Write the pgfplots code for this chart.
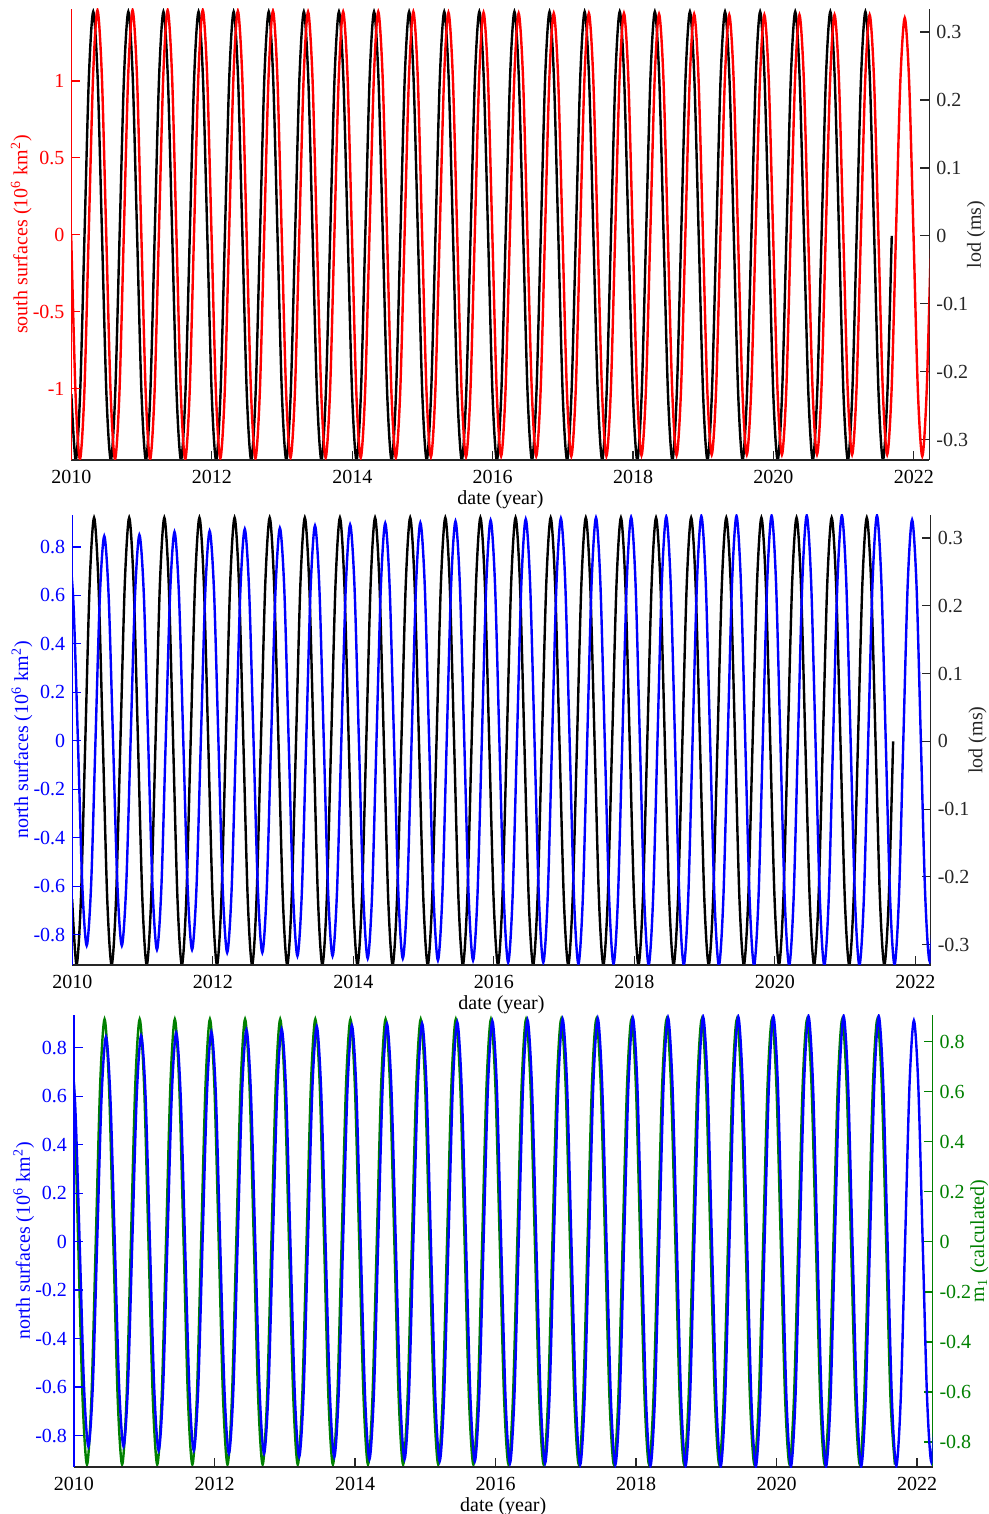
\documentclass[border=0pt]{standalone}
\usepackage{fontspec}
\setmainfont{Liberation Serif}
\usepackage{pgfplots}
\usepackage{pgfplotstable}
\pgfplotsset{compat=1.18}
\definecolor{mgreen}{rgb}{0,0.5,0}
\definecolor{axgray}{rgb}{0.15,0.15,0.15}

% lod (ms), black
\pgfplotstableread{
x y
2009.9975 -0.233
2010.0600 -0.33
2010.1225 -0.233
2010.1850 0
2010.2475 0.233
2010.3100 0.33
2010.3725 0.233
2010.4350 0
2010.4975 -0.233
2010.5600 -0.33
2010.6225 -0.233
2010.6850 0
2010.7475 0.233
2010.8100 0.33
2010.8725 0.233
2010.9350 0
2010.9975 -0.233
2011.0600 -0.33
2011.1225 -0.233
2011.1850 0
2011.2475 0.233
2011.3100 0.33
2011.3725 0.233
2011.4350 0
2011.4975 -0.233
2011.5600 -0.33
2011.6225 -0.233
2011.6850 0
2011.7475 0.233
2011.8100 0.33
2011.8725 0.233
2011.9350 0
2011.9975 -0.233
2012.0600 -0.33
2012.1225 -0.233
2012.1850 0
2012.2475 0.233
2012.3100 0.33
2012.3725 0.233
2012.4350 0
2012.4975 -0.233
2012.5600 -0.33
2012.6225 -0.233
2012.6850 0
2012.7475 0.233
2012.8100 0.33
2012.8725 0.233
2012.9350 0
2012.9975 -0.233
2013.0600 -0.33
2013.1225 -0.233
2013.1850 0
2013.2475 0.233
2013.3100 0.33
2013.3725 0.233
2013.4350 0
2013.4975 -0.233
2013.5600 -0.33
2013.6225 -0.233
2013.6850 0
2013.7475 0.233
2013.8100 0.33
2013.8725 0.233
2013.9350 0
2013.9975 -0.233
2014.0600 -0.33
2014.1225 -0.233
2014.1850 0
2014.2475 0.233
2014.3100 0.33
2014.3725 0.233
2014.4350 0
2014.4975 -0.233
2014.5600 -0.33
2014.6225 -0.233
2014.6850 0
2014.7475 0.233
2014.8100 0.33
2014.8725 0.233
2014.9350 0
2014.9975 -0.233
2015.0600 -0.33
2015.1225 -0.233
2015.1850 0
2015.2475 0.233
2015.3100 0.33
2015.3725 0.233
2015.4350 0
2015.4975 -0.233
2015.5600 -0.33
2015.6225 -0.233
2015.6850 0
2015.7475 0.233
2015.8100 0.33
2015.8725 0.233
2015.9350 0
2015.9975 -0.233
2016.0600 -0.33
2016.1225 -0.233
2016.1850 0
2016.2475 0.233
2016.3100 0.33
2016.3725 0.233
2016.4350 0
2016.4975 -0.233
2016.5600 -0.33
2016.6225 -0.233
2016.6850 0
2016.7475 0.233
2016.8100 0.33
2016.8725 0.233
2016.9350 0
2016.9975 -0.233
2017.0600 -0.33
2017.1225 -0.233
2017.1850 0
2017.2475 0.233
2017.3100 0.33
2017.3725 0.233
2017.4350 0
2017.4975 -0.233
2017.5600 -0.33
2017.6225 -0.233
2017.6850 0
2017.7475 0.233
2017.8100 0.33
2017.8725 0.233
2017.9350 0
2017.9975 -0.233
2018.0600 -0.33
2018.1225 -0.233
2018.1850 0
2018.2475 0.233
2018.3100 0.33
2018.3725 0.233
2018.4350 0
2018.4975 -0.233
2018.5600 -0.33
2018.6225 -0.233
2018.6850 0
2018.7475 0.233
2018.8100 0.33
2018.8725 0.233
2018.9350 0
2018.9975 -0.233
2019.0600 -0.33
2019.1225 -0.233
2019.1850 0
2019.2475 0.233
2019.3100 0.33
2019.3725 0.233
2019.4350 0
2019.4975 -0.233
2019.5600 -0.33
2019.6225 -0.233
2019.6850 0
2019.7475 0.233
2019.8100 0.33
2019.8725 0.233
2019.9350 0
2019.9975 -0.233
2020.0600 -0.33
2020.1225 -0.233
2020.1850 0
2020.2475 0.233
2020.3100 0.33
2020.3725 0.233
2020.4350 0
2020.4975 -0.233
2020.5600 -0.33
2020.6225 -0.233
2020.6850 0
2020.7475 0.233
2020.8100 0.33
2020.8725 0.233
2020.9350 0
2020.9975 -0.233
2021.0600 -0.33
2021.1225 -0.233
2021.1850 0
2021.2475 0.233
2021.3100 0.33
2021.3725 0.233
2021.4350 0
2021.4975 -0.233
2021.5600 -0.33
2021.6225 -0.233
2021.6850 0
}\lodtab

% south surfaces, red
\pgfplotstableread{
x y
2009.9950 0
2010.0575 -1.032
2010.1200 -1.46
2010.1825 -1.032
2010.2450 0
2010.3075 1.032
2010.3700 1.46
2010.4325 1.032
2010.4950 0
2010.5575 -1.032
2010.6200 -1.46
2010.6825 -1.032
2010.7450 0
2010.8075 1.032
2010.8700 1.46
2010.9325 1.032
2010.9950 0
2011.0575 -1.032
2011.1200 -1.46
2011.1825 -1.032
2011.2450 0
2011.3075 1.032
2011.3700 1.46
2011.4325 1.032
2011.4950 0
2011.5575 -1.032
2011.6200 -1.46
2011.6825 -1.032
2011.7450 0
2011.8075 1.032
2011.8700 1.46
2011.9325 1.032
2011.9950 0
2012.0575 -1.029
2012.1200 -1.455
2012.1825 -1.029
2012.2450 0
2012.3075 1.029
2012.3700 1.455
2012.4325 1.029
2012.4950 0
2012.5575 -1.029
2012.6200 -1.455
2012.6825 -1.029
2012.7450 0
2012.8075 1.029
2012.8700 1.455
2012.9325 1.029
2012.9950 0
2013.0575 -1.025
2013.1200 -1.45
2013.1825 -1.025
2013.2450 0
2013.3075 1.025
2013.3700 1.45
2013.4325 1.025
2013.4950 0
2013.5575 -1.025
2013.6200 -1.45
2013.6825 -1.025
2013.7450 0
2013.8075 1.025
2013.8700 1.45
2013.9325 1.025
2013.9950 0
2014.0575 -1.025
2014.1200 -1.45
2014.1825 -1.025
2014.2450 0
2014.3075 1.025
2014.3700 1.45
2014.4325 1.025
2014.4950 0
2014.5575 -1.025
2014.6200 -1.45
2014.6825 -1.025
2014.7450 0
2014.8075 1.025
2014.8700 1.45
2014.9325 1.025
2014.9950 0
2015.0575 -1.022
2015.1200 -1.445
2015.1825 -1.022
2015.2450 0
2015.3075 1.022
2015.3700 1.445
2015.4325 1.022
2015.4950 0
2015.5575 -1.022
2015.6200 -1.445
2015.6825 -1.022
2015.7450 0
2015.8075 1.022
2015.8700 1.445
2015.9325 1.022
2015.9950 0
2016.0575 -1.018
2016.1200 -1.44
2016.1825 -1.018
2016.2450 0
2016.3075 1.018
2016.3700 1.44
2016.4325 1.018
2016.4950 0
2016.5575 -1.018
2016.6200 -1.44
2016.6825 -1.018
2016.7450 0
2016.8075 1.018
2016.8700 1.44
2016.9325 1.018
2016.9950 0
2017.0575 -1.018
2017.1200 -1.44
2017.1825 -1.018
2017.2450 0
2017.3075 1.018
2017.3700 1.44
2017.4325 1.018
2017.4950 0
2017.5575 -1.018
2017.6200 -1.44
2017.6825 -1.018
2017.7450 0
2017.8075 1.018
2017.8700 1.44
2017.9325 1.018
2017.9950 0
2018.0575 -1.015
2018.1200 -1.435
2018.1825 -1.015
2018.2450 0
2018.3075 1.015
2018.3700 1.435
2018.4325 1.015
2018.4950 0
2018.5575 -1.015
2018.6200 -1.435
2018.6825 -1.015
2018.7450 0
2018.8075 1.015
2018.8700 1.435
2018.9325 1.015
2018.9950 0
2019.0575 -1.011
2019.1200 -1.43
2019.1825 -1.011
2019.2450 0
2019.3075 1.011
2019.3700 1.43
2019.4325 1.011
2019.4950 0
2019.5575 -1.011
2019.6200 -1.43
2019.6825 -1.011
2019.7450 0
2019.8075 1.011
2019.8700 1.43
2019.9325 1.011
2019.9950 0
2020.0575 -1.011
2020.1200 -1.43
2020.1825 -1.011
2020.2450 0
2020.3075 1.011
2020.3700 1.43
2020.4325 1.011
2020.4950 0
2020.5575 -1.011
2020.6200 -1.43
2020.6825 -1.011
2020.7450 0
2020.8075 1.011
2020.8700 1.43
2020.9325 1.011
2020.9950 0
2021.0575 -1.011
2021.1200 -1.43
2021.1825 -1.011
2021.2450 0
2021.3075 1.011
2021.3700 1.43
2021.4325 1.011
2021.4950 0
2021.5575 -1.011
2021.6200 -1.43
2021.6825 -1.011
2021.7450 0
2021.8075 0.997
2021.8700 1.41
2021.9325 0.997
2021.9950 0
2022.0575 -1.018
2022.1200 -1.44
2022.1825 -1.018
2022.2450 0
}\southtab

% north surfaces, blue
\pgfplotstableread{
x y
2009.9550 0.80
2010.0175 0.56
2010.0800 0
2010.1425 -0.597
2010.2050 -0.845
2010.2675 -0.597
2010.3300 0
2010.3925 0.597
2010.4550 0.845
2010.5175 0.597
2010.5800 0
2010.6425 -0.597
2010.7050 -0.845
2010.7675 -0.597
2010.8300 0
2010.8925 0.597
2010.9550 0.85
2011.0175 0.609
2011.0800 0
2011.1425 -0.609
2011.2050 -0.862
2011.2675 -0.609
2011.3300 0
2011.3925 0.609
2011.4550 0.862
2011.5175 0.609
2011.5800 0
2011.6425 -0.609
2011.7050 -0.862
2011.7675 -0.609
2011.8300 0
2011.8925 0.609
2011.9550 0.866
2012.0175 0.618
2012.0800 0
2012.1425 -0.618
2012.2050 -0.874
2012.2675 -0.618
2012.3300 0
2012.3925 0.618
2012.4550 0.874
2012.5175 0.618
2012.5800 0
2012.6425 -0.618
2012.7050 -0.874
2012.7675 -0.618
2012.8300 0
2012.8925 0.618
2012.9550 0.878
2013.0175 0.628
2013.0800 0
2013.1425 -0.628
2013.2050 -0.888
2013.2675 -0.628
2013.3300 0
2013.3925 0.628
2013.4550 0.888
2013.5175 0.628
2013.5800 0
2013.6425 -0.628
2013.7050 -0.888
2013.7675 -0.628
2013.8300 0
2013.8925 0.628
2013.9550 0.892
2014.0175 0.635
2014.0800 0
2014.1425 -0.635
2014.2050 -0.898
2014.2675 -0.635
2014.3300 0
2014.3925 0.635
2014.4550 0.898
2014.5175 0.635
2014.5800 0
2014.6425 -0.635
2014.7050 -0.898
2014.7675 -0.635
2014.8300 0
2014.8925 0.635
2014.9550 0.90
2015.0175 0.641
2015.0800 0
2015.1425 -0.641
2015.2050 -0.906
2015.2675 -0.641
2015.3300 0
2015.3925 0.641
2015.4550 0.906
2015.5175 0.641
2015.5800 0
2015.6425 -0.641
2015.7050 -0.906
2015.7675 -0.641
2015.8300 0
2015.8925 0.641
2015.9550 0.91
2016.0175 0.647
2016.0800 0
2016.1425 -0.647
2016.2050 -0.915
2016.2675 -0.647
2016.3300 0
2016.3925 0.647
2016.4550 0.915
2016.5175 0.647
2016.5800 0
2016.6425 -0.647
2016.7050 -0.915
2016.7675 -0.647
2016.8300 0
2016.8925 0.647
2016.9550 0.918
2017.0175 0.651
2017.0800 0
2017.1425 -0.651
2017.2050 -0.921
2017.2675 -0.651
2017.3300 0
2017.3925 0.651
2017.4550 0.921
2017.5175 0.651
2017.5800 0
2017.6425 -0.651
2017.7050 -0.921
2017.7675 -0.651
2017.8300 0
2017.8925 0.651
2017.9550 0.923
2018.0175 0.654
2018.0800 0
2018.1425 -0.654
2018.2050 -0.925
2018.2675 -0.654
2018.3300 0
2018.3925 0.654
2018.4550 0.925
2018.5175 0.654
2018.5800 0
2018.6425 -0.654
2018.7050 -0.925
2018.7675 -0.654
2018.8300 0
2018.8925 0.654
2018.9550 0.927
2019.0175 0.656
2019.0800 0
2019.1425 -0.656
2019.2050 -0.927
2019.2675 -0.656
2019.3300 0
2019.3925 0.656
2019.4550 0.928
2019.5175 0.656
2019.5800 0
2019.6425 -0.656
2019.7050 -0.927
2019.7675 -0.656
2019.8300 0
2019.8925 0.656
2019.9550 0.929
2020.0175 0.657
2020.0800 0
2020.1425 -0.657
2020.2050 -0.927
2020.2675 -0.657
2020.3300 0
2020.3925 0.658
2020.4550 0.93
2020.5175 0.658
2020.5800 0
2020.6425 -0.657
2020.7050 -0.927
2020.7675 -0.657
2020.8300 0
2020.8925 0.658
2020.9550 0.93
2021.0175 0.658
2021.0800 0
2021.1425 -0.657
2021.2050 -0.927
2021.2675 -0.657
2021.3300 0
2021.3925 0.658
2021.4550 0.93
2021.5175 0.658
2021.5800 0
2021.6425 -0.654
2021.7050 -0.925
2021.7675 -0.650
2021.8300 0
2021.8925 0.645
2021.9550 0.912
2022.0175 0.645
2022.0800 0
2022.1425 -0.643
2022.2050 -0.91
2022.2675 -0.643
}\northtab

% m1 calculated, green
\pgfplotstableread{
x y
2009.9350 0.89
2009.9975 0.629
2010.0600 0
2010.1225 -0.629
2010.1850 -0.89
2010.2475 -0.629
2010.3100 0
2010.3725 0.629
2010.4350 0.89
2010.4975 0.629
2010.5600 0
2010.6225 -0.629
2010.6850 -0.89
2010.7475 -0.629
2010.8100 0
2010.8725 0.629
2010.9350 0.89
2010.9975 0.629
2011.0600 0
2011.1225 -0.629
2011.1850 -0.89
2011.2475 -0.629
2011.3100 0
2011.3725 0.629
2011.4350 0.89
2011.4975 0.629
2011.5600 0
2011.6225 -0.629
2011.6850 -0.89
2011.7475 -0.629
2011.8100 0
2011.8725 0.629
2011.9350 0.89
2011.9975 0.629
2012.0600 0
2012.1225 -0.629
2012.1850 -0.89
2012.2475 -0.629
2012.3100 0
2012.3725 0.629
2012.4350 0.89
2012.4975 0.629
2012.5600 0
2012.6225 -0.629
2012.6850 -0.89
2012.7475 -0.629
2012.8100 0
2012.8725 0.629
2012.9350 0.89
2012.9975 0.629
2013.0600 0
2013.1225 -0.629
2013.1850 -0.89
2013.2475 -0.629
2013.3100 0
2013.3725 0.629
2013.4350 0.89
2013.4975 0.629
2013.5600 0
2013.6225 -0.629
2013.6850 -0.89
2013.7475 -0.629
2013.8100 0
2013.8725 0.629
2013.9350 0.89
2013.9975 0.629
2014.0600 0
2014.1225 -0.629
2014.1850 -0.89
2014.2475 -0.629
2014.3100 0
2014.3725 0.629
2014.4350 0.89
2014.4975 0.629
2014.5600 0
2014.6225 -0.629
2014.6850 -0.89
2014.7475 -0.629
2014.8100 0
2014.8725 0.629
2014.9350 0.89
2014.9975 0.629
2015.0600 0
2015.1225 -0.629
2015.1850 -0.89
2015.2475 -0.629
2015.3100 0
2015.3725 0.629
2015.4350 0.89
2015.4975 0.629
2015.5600 0
2015.6225 -0.629
2015.6850 -0.89
2015.7475 -0.629
2015.8100 0
2015.8725 0.629
2015.9350 0.89
2015.9975 0.629
2016.0600 0
2016.1225 -0.629
2016.1850 -0.89
2016.2475 -0.629
2016.3100 0
2016.3725 0.629
2016.4350 0.89
2016.4975 0.629
2016.5600 0
2016.6225 -0.629
2016.6850 -0.89
2016.7475 -0.629
2016.8100 0
2016.8725 0.629
2016.9350 0.89
2016.9975 0.629
2017.0600 0
2017.1225 -0.629
2017.1850 -0.89
2017.2475 -0.629
2017.3100 0
2017.3725 0.629
2017.4350 0.89
2017.4975 0.629
2017.5600 0
2017.6225 -0.629
2017.6850 -0.89
2017.7475 -0.629
2017.8100 0
2017.8725 0.629
2017.9350 0.89
2017.9975 0.629
2018.0600 0
2018.1225 -0.629
2018.1850 -0.89
2018.2475 -0.629
2018.3100 0
2018.3725 0.629
2018.4350 0.89
2018.4975 0.629
2018.5600 0
2018.6225 -0.629
2018.6850 -0.89
2018.7475 -0.629
2018.8100 0
2018.8725 0.629
2018.9350 0.89
2018.9975 0.629
2019.0600 0
2019.1225 -0.629
2019.1850 -0.89
2019.2475 -0.629
2019.3100 0
2019.3725 0.629
2019.4350 0.89
2019.4975 0.629
2019.5600 0
2019.6225 -0.629
2019.6850 -0.89
2019.7475 -0.629
2019.8100 0
2019.8725 0.629
2019.9350 0.89
2019.9975 0.629
2020.0600 0
2020.1225 -0.629
2020.1850 -0.89
2020.2475 -0.629
2020.3100 0
2020.3725 0.629
2020.4350 0.89
2020.4975 0.629
2020.5600 0
2020.6225 -0.629
2020.6850 -0.89
2020.7475 -0.629
2020.8100 0
2020.8725 0.629
2020.9350 0.89
2020.9975 0.629
2021.0600 0
2021.1225 -0.629
2021.1850 -0.89
2021.2475 -0.629
2021.3100 0
2021.3725 0.629
2021.4350 0.89
2021.4975 0.629
2021.5600 0
2021.6225 -0.629
2021.6850 -0.89
}\monetab

\pgfplotsset{
  base/.style={
    scale only axis, xmin=2010, xmax=2022.22,
    tick align=inside, major tick length=4.5pt, minor tick num=0,
    /pgf/number format/assume math mode=true,
    tick label style={font=\fontsize{10}{12}\selectfont},
    label style={font=\fontsize{11}{13}\selectfont},
    separate axis lines,
    every non boxed x axis/.append style={x axis line style={-}, xtick align=inside},
    every non boxed y axis/.append style={y axis line style={-}, ytick align=inside},
    axis line style={line width=0.6pt},
    tick style={line width=0.6pt},
    every axis x label/.style={at={(axis description cs:0.5,0)}, anchor=center, yshift=-20pt},
  },
  leftax/.style={
    base, axis x line=bottom, axis y line=left,
    xtick={2010,2012,2014,2016,2018,2020,2022},
    xticklabels={2010,2012,2014,2016,2018,2020,2022},
    x tick label style={text=black, yshift=-1.5pt},
    x axis line style={axgray},
    xtick style={axgray},
    xlabel={date (year)},
    xlabel style={text=black},
    y axis line style={#1},
    ytick style={#1},
    y tick label style={text=#1},
    every axis y label/.style={at={(axis description cs:-0.0585,0.5)}, rotate=90, anchor=center, text=#1},
  },
  rightax/.style={
    base, axis x line=none, axis y line=right,
    y axis line style={#1},
    ytick style={#1},
    y tick label style={text=#1},
    every axis y label/.style={at={(axis description cs:1.0545,0.5)}, rotate=90, anchor=center, text=#1},
  },
  curve/.style={line width=1.2pt, smooth, no markers},
}

\begin{document}
\begin{tikzpicture}
\useasboundingbox (0,0) rectangle (494.5pt,757pt);

% ---------- top panel ----------
\begin{axis}[rightax=axgray, at={(35.75pt,752.5pt)}, anchor=north west,
  width=428.9pt, height=225.5pt,
  ymin=-0.33, ymax=0.334,
  ytick={-0.3,-0.2,-0.1,0,0.1,0.2,0.3},
  yticklabels={-0.3,-0.2,-0.1,0,0.1,0.2,0.3},
  ylabel={lod (ms)}]
\addplot[curve, black] table[x=x,y=y] {\lodtab};
\end{axis}
\begin{axis}[leftax=red, at={(35.75pt,752.5pt)}, anchor=north west,
  width=428.9pt, height=225.5pt,
  ymin=-1.465, ymax=1.468,
  ytick={-1,-0.5,0,0.5,1},
  yticklabels={-1,-0.5,0,0.5,1},
  ylabel={south surfaces (10\textsuperscript{6} km\textsuperscript{2})}]
\addplot[curve, red] table[x=x,y=y] {\southtab};
\end{axis}

% ---------- middle panel ----------
\begin{axis}[rightax=axgray, at={(36.15pt,499.5pt)}, anchor=north west,
  width=429.2pt, height=225pt,
  ymin=-0.33, ymax=0.334,
  ytick={-0.3,-0.2,-0.1,0,0.1,0.2,0.3},
  yticklabels={-0.3,-0.2,-0.1,0,0.1,0.2,0.3},
  ylabel={lod (ms)}]
\addplot[curve, black] table[x=x,y=y] {\lodtab};
\end{axis}
\begin{axis}[leftax=blue, at={(36.15pt,499.5pt)}, anchor=north west,
  width=429.2pt, height=225pt,
  ymin=-0.925, ymax=0.932,
  ytick={-0.8,-0.6,-0.4,-0.2,0,0.2,0.4,0.6,0.8},
  yticklabels={-0.8,-0.6,-0.4,-0.2,0,0.2,0.4,0.6,0.8},
  ylabel={north surfaces (10\textsuperscript{6} km\textsuperscript{2})}]
\addplot[curve, blue] table[x=x,y=y] {\northtab};
\end{axis}

% ---------- bottom panel ----------
\begin{axis}[rightax=mgreen, at={(37pt,249.5pt)}, anchor=north west,
  width=429.25pt, height=226pt,
  ymin=-0.9, ymax=0.907,
  ytick={-0.8,-0.6,-0.4,-0.2,0,0.2,0.4,0.6,0.8},
  yticklabels={-0.8,-0.6,-0.4,-0.2,0,0.2,0.4,0.6,0.8},
  ylabel={m\textsubscript{1} (calculated)}]
\addplot[curve, mgreen] table[x=x,y=y] {\monetab};
\end{axis}
\begin{axis}[leftax=blue, at={(37pt,249.5pt)}, anchor=north west,
  width=429.25pt, height=226pt,
  ymin=-0.93, ymax=0.935,
  ytick={-0.8,-0.6,-0.4,-0.2,0,0.2,0.4,0.6,0.8},
  yticklabels={-0.8,-0.6,-0.4,-0.2,0,0.2,0.4,0.6,0.8},
  ylabel={north surfaces (10\textsuperscript{6} km\textsuperscript{2})}]
\addplot[curve, blue] table[x=x,y=y] {\northtab};
\end{axis}
\end{tikzpicture}
\end{document}
